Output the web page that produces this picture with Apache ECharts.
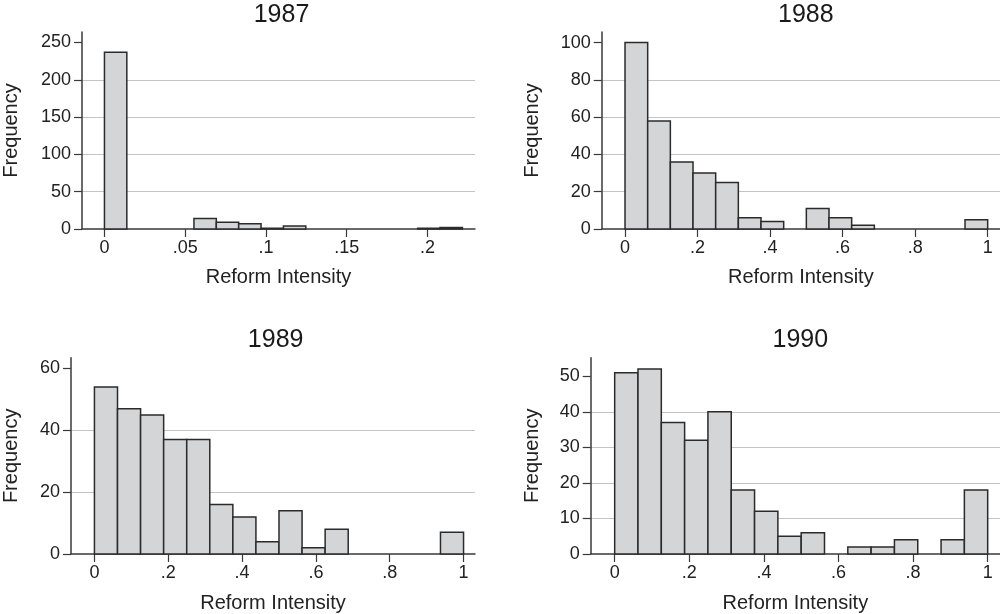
<!DOCTYPE html>
<html><head><meta charset="utf-8">
<script src="https://cdn.jsdelivr.net/npm/echarts@6/dist/echarts.min.js"></script>
<style>html,body{margin:0;padding:0;background:#fff}#c{width:1000px;height:614px}</style>
</head><body><div id="c"></div>
<script>
// ---- data ----
const years = ['1987', '1988', '1989', '1990'];
const binWidth1987 = 0.01385;
const counts1987 = [237, 0, 0, 0, 14, 9, 7, 1, 4, 0, 0, 0, 0, 0, 1, 2];
const binWidth1988 = 0.0625;
const counts1988 = [100, 58, 36, 30, 25, 6, 4, 0, 11, 6, 2, 0, 0, 0, 0, 5];
const binWidth1989 = 0.0625;
const counts1989 = [54, 47, 45, 37, 37, 16, 12, 4, 14, 2, 8, 0, 0, 0, 0, 7];
const binWidth1990 = 0.0625;
const counts1990 = [51, 52, 37, 32, 40, 18, 12, 5, 6, 0, 2, 2, 4, 0, 4, 18];
const xTicks1987 = [0, 0.05, 0.1, 0.15, 0.2];
const xTicksUnit = [0, 0.2, 0.4, 0.6, 0.8, 1];
const yTicks1987 = [0, 50, 100, 150, 200, 250];
const yTicks1988 = [0, 20, 40, 60, 80, 100];
const yTicks1989 = [0, 20, 40, 60];
const yTicks1990 = [0, 10, 20, 30, 40, 50];

const panels = [
  {counts: counts1987, w: binWidth1987, xt: xTicks1987, yt: yTicks1987, yInt: 50,
   grid: {left: 78, top: 32, width: 397, height: 197}, xmin: -0.0139, xmax: 0.2294, ymax: 264, nameGapY: 61, nameGapX: 38, titleTop: -2},
  {counts: counts1988, w: binWidth1988, xt: xTicksUnit, yt: yTicks1988, yInt: 20,
   grid: {left: 601.7, top: 32, width: 398.3, height: 197}, xmin: -0.0643, xmax: 1.034, ymax: 105.7, nameGapY: 59, nameGapX: 38, titleTop: -2},
  {counts: counts1989, w: binWidth1989, xt: xTicksUnit, yt: yTicks1989, yInt: 20,
   grid: {left: 66.3, top: 357.7, width: 408.7, height: 197.3}, xmin: -0.0635, xmax: 1.031, ymax: 63.5, nameGapY: 50, nameGapX: 39, titleTop: 323},
  {counts: counts1990, w: binWidth1990, xt: xTicksUnit, yt: yTicks1990, yInt: 10,
   grid: {left: 590.7, top: 357.7, width: 409.3, height: 197.3}, xmin: -0.0643, xmax: 1.033, ymax: 55.2, nameGapY: 48, nameGapX: 39, titleTop: 323}
];

const FONT = 'Liberation Sans, Arial, Helvetica, sans-serif';
const axisColor = '#3a3a3a';
const fmt = v => { if (v === 0) return '0'; if (v === 1) return '1'; return String(+v.toFixed(3)).replace(/^0\./, '.'); };

const option = {animation: false, backgroundColor: '#fff', title: [], grid: [], xAxis: [], yAxis: [], series: []};
panels.forEach((p, i) => {
  option.grid.push(p.grid);
  option.title.push({text: years[i], left: p.grid.left + p.grid.width / 2, top: p.titleTop, textAlign: 'center',
    textStyle: {fontFamily: FONT, fontSize: 25, fontWeight: 'normal', color: '#1a1a1a'}});
  option.xAxis.push({type: 'value', gridIndex: i, min: p.xmin, max: p.xmax,
    name: 'Reform Intensity', nameLocation: 'middle', nameGap: p.nameGapX,
    nameTextStyle: {fontFamily: FONT, fontSize: 20, color: '#222'},
    axisLine: {show: true, onZero: false, lineStyle: {color: axisColor, width: 1.5}},
    axisTick: {show: true, length: 8, customValues: p.xt, lineStyle: {color: axisColor, width: 1.2}},
    axisLabel: {customValues: p.xt, formatter: fmt, margin: 10, fontFamily: FONT, fontSize: 18, color: '#222'},
    splitLine: {show: false}});
  option.yAxis.push({type: 'value', gridIndex: i, min: 0, max: p.ymax, interval: p.yInt,
    name: 'Frequency', nameLocation: 'middle', nameGap: p.nameGapY,
    nameTextStyle: {fontFamily: FONT, fontSize: 20, color: '#222'},
    axisLine: {show: true, onZero: false, lineStyle: {color: axisColor, width: 1.5}},
    axisTick: {show: true, length: 8, customValues: p.yt, lineStyle: {color: axisColor, width: 1.2}},
    axisLabel: {customValues: p.yt, margin: 11, fontFamily: FONT, fontSize: 18, color: '#222'},
    splitLine: {show: true, showMinLine: false, showMaxLine: false, lineStyle: {color: '#c4c4c4', width: 1}}});
  const data = [];
  p.counts.forEach((c, k) => { if (c > 0) data.push([k * p.w, (k + 1) * p.w, c]); });
  option.series.push({type: 'custom', xAxisIndex: i, yAxisIndex: i, encode: {x: [0, 1], y: 2}, data: data, z: 3,
    renderItem: (params, api) => {
      const a = api.coord([api.value(0), api.value(2)]);
      const b = api.coord([api.value(1), 0]);
      return {type: 'rect', shape: {x: a[0], y: a[1], width: b[0] - a[0], height: b[1] - a[1]},
        style: {fill: '#d4d5d7', stroke: '#2b2b2b', lineWidth: 1.5}};
    }});
});
const chart = echarts.init(document.getElementById('c'), null, {renderer: 'canvas'});
chart.setOption(option);
</script></body></html>
